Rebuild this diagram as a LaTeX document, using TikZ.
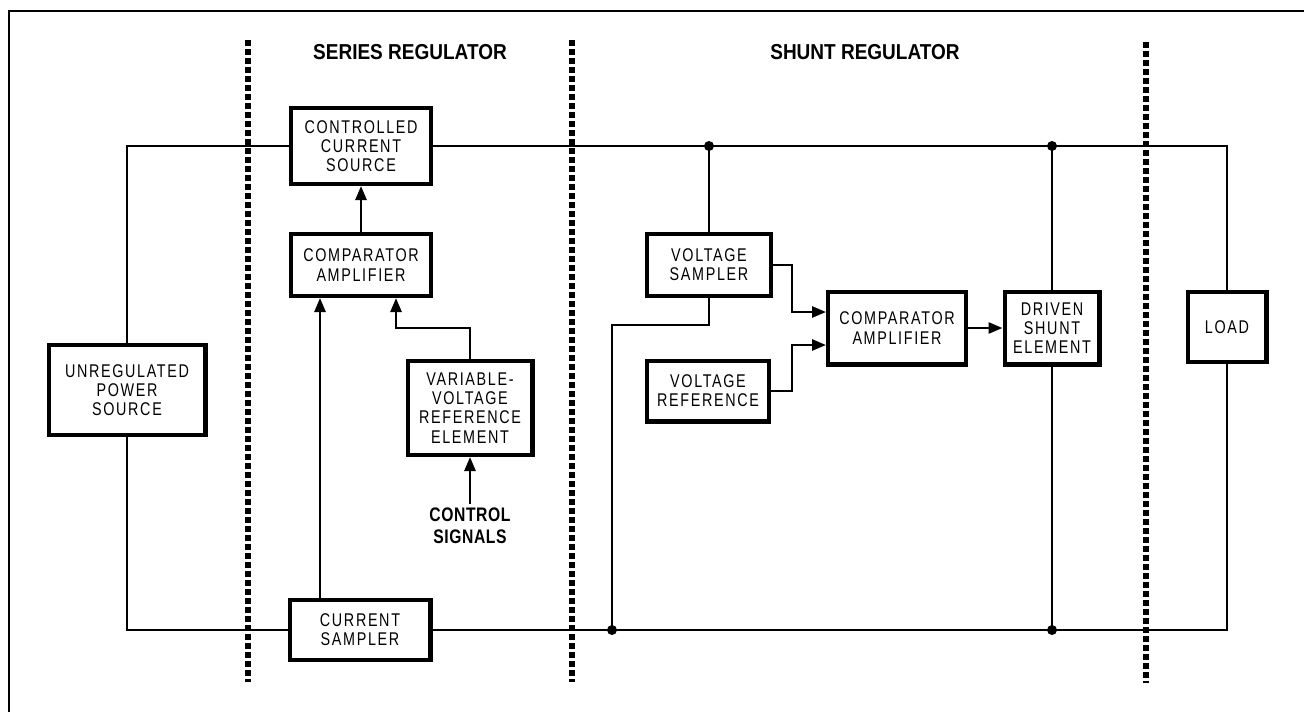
\documentclass[tikz,border=0pt]{standalone}
\usepackage{fontspec}
\setmainfont{Liberation Sans}
\newfontfamily\boxfont{Liberation Sans}[FakeStretch=0.78,LetterSpace=9]
\newfontfamily\titlefont{Liberation Sans}[FakeStretch=0.88]
\newfontfamily\sigfont{Liberation Sans}[FakeStretch=0.8,LetterSpace=3]
\usetikzlibrary{arrows.meta,calc}
\begin{document}
\begin{tikzpicture}[x=0.5pt,y=-0.5pt,
 blk/.style={draw,line width=2.2pt,align=center,inner sep=0pt,font=\boxfont\fontsize{9.2}{9.6}\selectfont},
 wire/.style={line width=1.3pt},
 arr/.style={wire,-{Triangle[length=7pt,width=5.5pt]}},
 divider/.style={line width=2.6pt,dash pattern=on 3pt off 1.5pt},
 jdot/.style={circle,fill,inner sep=0pt,minimum size=5pt},
 ttl/.style={font=\titlefont\bfseries\fontsize{10.8}{12}\selectfont,inner sep=0pt}]
\useasboundingbox (0,0) rectangle (1304,712);
% frame
\draw[line width=1.2pt] (9,712) -- (9,11) -- (1304,11);
% dividers
\draw[divider] (248,40) -- (248,682);
\draw[divider] (572,40) -- (572,682);
\draw[divider] (1146,42) -- (1146,683);
% titles
\node[ttl] (t1) at (410,52) {SERIES REGULATOR};
\node[ttl] (t2) at (865,52) {SHUNT REGULATOR};
% blocks
\node[blk,minimum width=69.8pt,minimum height=37.8pt] (ccs) at (361,146) {CONTROLLED\\CURRENT\\SOURCE};
\node[blk,minimum width=69.8pt,minimum height=30.8pt] (comps) at (361,265) {COMPARATOR\\AMPLIFIER};
\node[blk,minimum width=78.3pt,minimum height=44.8pt] (ups) at (127,390) {UNREGULATED\\POWER\\SOURCE};
\node[blk,minimum width=62.3pt,minimum height=46.8pt] (vvre) at (470,408) {VARIABLE-\\VOLTAGE\\REFERENCE\\ELEMENT};
\node[blk,minimum width=70.3pt,minimum height=29.8pt] (cs) at (360,630) {CURRENT\\SAMPLER};
\node[blk,minimum width=61.8pt,minimum height=30.8pt] (vs) at (709,265) {VOLTAGE\\SAMPLER};
\node[blk,minimum width=60.8pt,minimum height=30.3pt] (vr) at (708,391) {VOLTAGE\\REFERENCE};
\node[blk,minimum width=68.8pt,minimum height=36.3pt] (compsh) at (897,328) {COMPARATOR\\AMPLIFIER};
\node[blk,minimum width=47.3pt,minimum height=36.3pt] (dse) at (1052,328) {DRIVEN\\SHUNT\\ELEMENT};
\node[blk,minimum width=39.3pt,minimum height=34.8pt] (load) at (1227,327) {LOAD};
\node[font=\sigfont\bfseries\fontsize{9.8}{11}\selectfont,align=center,inner sep=0pt,anchor=north] (ctrl) at (470,507) {CONTROL\\SIGNALS};
% helper coordinates
\coordinate (j1) at (709,146);
\coordinate (j2) at (1052,146);
\coordinate (j3) at (612,630);
\coordinate (j4) at (1052,630);
\coordinate (a1) at (320,0);
\coordinate (c2) at (396,328);
\coordinate (c3) at (612,325);
\coordinate (c4) at (792,312);
\coordinate (c5) at (792,345);
% rails
\draw[wire] (ups.north) |- (ccs.west);
\draw[wire] (ups.south) |- (cs.west);
\draw[wire] (ccs.east) -| (load.north);
\draw[wire] (cs.east) -| (load.south);
% series regulator
\draw[arr] (comps.north) -- (ccs.south);
\draw[arr] (cs.north -| a1) -- (comps.south -| a1);
\draw[arr] (vvre.north) |- (c2) -- (comps.south -| c2);
\draw[arr] ([yshift=1.5pt]ctrl.north) -- (vvre.south);
% shunt regulator
\draw[wire] (j1) -- (vs.north);
\draw[wire] (vs.south) |- (c3) -- (j3);
\draw[arr] (vs.east) -| (c4) -- (c4 -| compsh.west);
\draw[arr] (vr.east) -| (c5) -- (c5 -| compsh.west);
\draw[arr] (compsh.east) -- (dse.west);
\draw[wire] (j2) -- (dse.north);
\draw[wire] (dse.south) -- (j4);
% junctions
\node[jdot] (d1) at (j1) {};
\node[jdot] (d2) at (j2) {};
\node[jdot] (d3) at (j3) {};
\node[jdot] (d4) at (j4) {};
\end{tikzpicture}
\end{document}
